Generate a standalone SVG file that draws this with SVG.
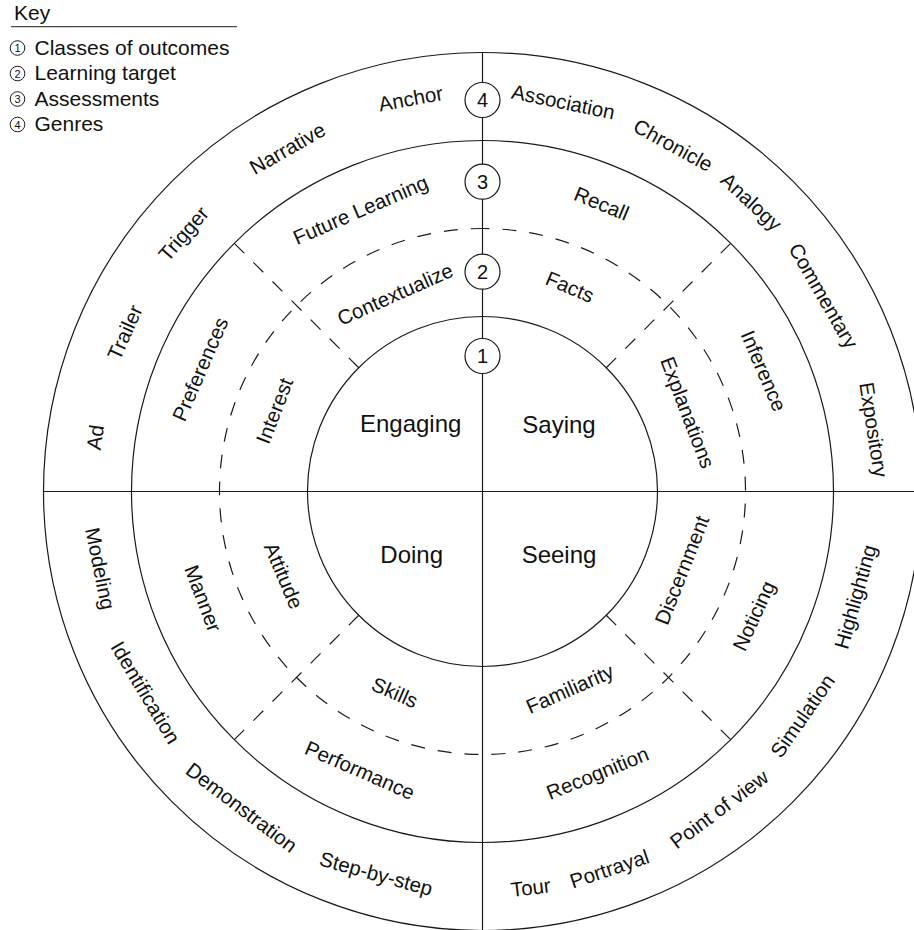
<svg xmlns="http://www.w3.org/2000/svg" width="914" height="930" viewBox="0 0 914 930">
<style>
text{font-family:"Liberation Sans",Arial,Helvetica,sans-serif;fill:#111}
.ring{fill:none;stroke:#1a1a1a;stroke-width:1.2}
.dash{fill:none;stroke:#1a1a1a;stroke-width:1.2;stroke-dasharray:14 13}
.axis{stroke:#1a1a1a;stroke-width:1.2}
.lbl{font-size:20.5px;text-anchor:middle}
.ctr{font-size:24px;text-anchor:middle}
.key{font-size:21px}
.kc{fill:#fff;stroke:#1a1a1a;stroke-width:1}
.kn{font-size:11px;text-anchor:middle}
.mc{fill:#fff;stroke:#1a1a1a;stroke-width:1.2}
.mn{font-size:20px;text-anchor:middle}
</style>
<rect width="914" height="930" fill="#fff"/>
<g id="key">
<text class="key" x="14" y="20">Key</text>
<line x1="11" y1="26.7" x2="237" y2="26.7" stroke="#1a1a1a" stroke-width="1"/>
<circle class="kc" cx="17.5" cy="48" r="7.3"/><text class="kn" x="17.5" y="52">1</text>
<text class="key" x="34.5" y="54.5">Classes of outcomes</text>
<circle class="kc" cx="17.5" cy="73.5" r="7.3"/><text class="kn" x="17.5" y="77.5">2</text>
<text class="key" x="34.5" y="80.2">Learning target</text>
<circle class="kc" cx="17.5" cy="99" r="7.3"/><text class="kn" x="17.5" y="103">3</text>
<text class="key" x="34.5" y="105.7">Assessments</text>
<circle class="kc" cx="17.5" cy="124.5" r="7.3"/><text class="kn" x="17.5" y="128.5">4</text>
<text class="key" x="34.5" y="131">Genres</text>
</g>
<g id="rings">
<circle class="ring" cx="482.5" cy="491.5" r="439"/>
<circle class="ring" cx="482.5" cy="491.5" r="351"/>
<path class="dash" stroke-dashoffset="7" d="M482.5,228.5 A263,263 0 0 1 482.5,754.5 A263,263 0 0 1 482.5,228.5"/>
<circle class="ring" cx="482.5" cy="491.5" r="175"/>
</g>
<g id="connectors">
<line class="axis" x1="43.5" y1="491.5" x2="914" y2="491.5"/>
<line class="axis" x1="482.5" y1="52.5" x2="482.5" y2="930"/>
<line class="dash" x1="234.3" y1="243.3" x2="358.8" y2="367.8"/>
<line class="dash" x1="730.7" y1="243.3" x2="606.2" y2="367.8"/>
<line class="dash" x1="234.3" y1="739.7" x2="358.8" y2="615.2"/>
<line class="dash" x1="730.7" y1="739.7" x2="606.2" y2="615.2"/>
</g>
<g id="markers">
<circle class="mc" cx="482.5" cy="100" r="17.5"/><text class="mn" x="482.5" y="107.2">4</text>
<circle class="mc" cx="482.5" cy="181.7" r="17.5"/><text class="mn" x="482.5" y="188.9">3</text>
<circle class="mc" cx="482.5" cy="271.7" r="17.5"/><text class="mn" x="482.5" y="278.9">2</text>
<circle class="mc" cx="482.5" cy="356" r="17.5"/><text class="mn" x="482.5" y="363.2">1</text>
</g>
<g id="outcomes">
<text class="ctr" x="410.7" y="425.7" dy=".25em">Engaging</text>
<text class="ctr" x="559" y="426.7" dy=".25em">Saying</text>
<text class="ctr" x="411.7" y="556.7" dy=".25em">Doing</text>
<text class="ctr" x="559" y="556.7" dy=".25em">Seeing</text>
</g>
<g id="targets">
<text class="lbl" transform="translate(395,294) rotate(-23.9)" dy=".36em">Contextualize</text>
<text class="lbl" transform="translate(274.3,410.7) rotate(-68.8)" dy=".36em">Interest</text>
<text class="lbl" transform="translate(570,286.7) rotate(23.1)" dy=".36em">Facts</text>
<text class="lbl" transform="translate(685.7,413.3) rotate(69)" dy=".25em">Explanations</text>
<text class="lbl" transform="translate(284,575.7) rotate(67)" dy=".36em">Attitude</text>
<text class="lbl" transform="translate(395,692.3) rotate(23.5)" dy=".36em">Skills</text>
<text class="lbl" transform="translate(570.7,690.7) rotate(-23.9)" dy=".25em">Familiarity</text>
<text class="lbl" transform="translate(681.7,570) rotate(-68.5)" dy=".36em">Discernment</text>
</g>
<g id="assessments">
<text class="lbl" transform="translate(361.3,211.7) rotate(-23.4)" dy=".25em">Future Learning</text>
<text class="lbl" transform="translate(200,369) rotate(-66.6)" dy=".36em">Preferences</text>
<text class="lbl" transform="translate(601.7,203.3) rotate(22.5)" dy=".36em">Recall</text>
<text class="lbl" transform="translate(764,370.7) rotate(66.8)" dy=".36em">Inference</text>
<text class="lbl" transform="translate(203.3,598.3) rotate(69.1)" dy=".36em">Manner</text>
<text class="lbl" transform="translate(360,770) rotate(23.7)" dy=".36em">Performance</text>
<text class="lbl" transform="translate(598.3,775) rotate(-22.2)" dy=".25em">Recognition</text>
<text class="lbl" transform="translate(755.7,616.7) rotate(-65.4)" dy=".25em">Noticing</text>
</g>
<g id="genres">
<text class="lbl" transform="translate(410.7,98.3) rotate(-10.4)" dy=".36em">Anchor</text>
<text class="lbl" transform="translate(287.3,148.3) rotate(-29.6)" dy=".36em">Narrative</text>
<text class="lbl" transform="translate(185,235) rotate(-49.2)" dy=".25em">Trigger</text>
<text class="lbl" transform="translate(124.7,332.3) rotate(-66)" dy=".36em">Trailer</text>
<text class="lbl" transform="translate(95,437.3) rotate(-82)" dy=".36em">Ad</text>
<text class="lbl" transform="translate(563.3,101.7) rotate(11.7)" dy=".36em">Association</text>
<text class="lbl" transform="translate(673.3,145) rotate(28.8)" dy=".36em">Chronicle</text>
<text class="lbl" transform="translate(750,203.3) rotate(42.9)" dy=".25em">Analogy</text>
<text class="lbl" transform="translate(821.7,296.7) rotate(60.1)" dy=".25em">Commentary</text>
<text class="lbl" transform="translate(871.7,430) rotate(81)" dy=".25em">Expository</text>
<text class="lbl" transform="translate(98.3,569) rotate(78.6)" dy=".25em">Modeling</text>
<text class="lbl" transform="translate(145.7,692.3) rotate(59.2)" dy=".36em">Identification</text>
<text class="lbl" transform="translate(241.7,807.3) rotate(37.3)" dy=".36em">Demonstration</text>
<text class="lbl" transform="translate(375.7,875.7) rotate(15.5)" dy=".25em">Step-by-step</text>
<text class="lbl" transform="translate(530.7,887.3) rotate(-6.9)" dy=".36em">Tour</text>
<text class="lbl" transform="translate(610,870.7) rotate(-18.6)" dy=".25em">Portrayal</text>
<text class="lbl" transform="translate(719,809) rotate(-36.7)" dy=".36em">Point of view</text>
<text class="lbl" transform="translate(802.3,715.7) rotate(-55)" dy=".36em">Simulation</text>
<text class="lbl" transform="translate(857.3,597.3) rotate(-74.2)" dy=".25em">Highlighting</text>
</g>
</svg>
